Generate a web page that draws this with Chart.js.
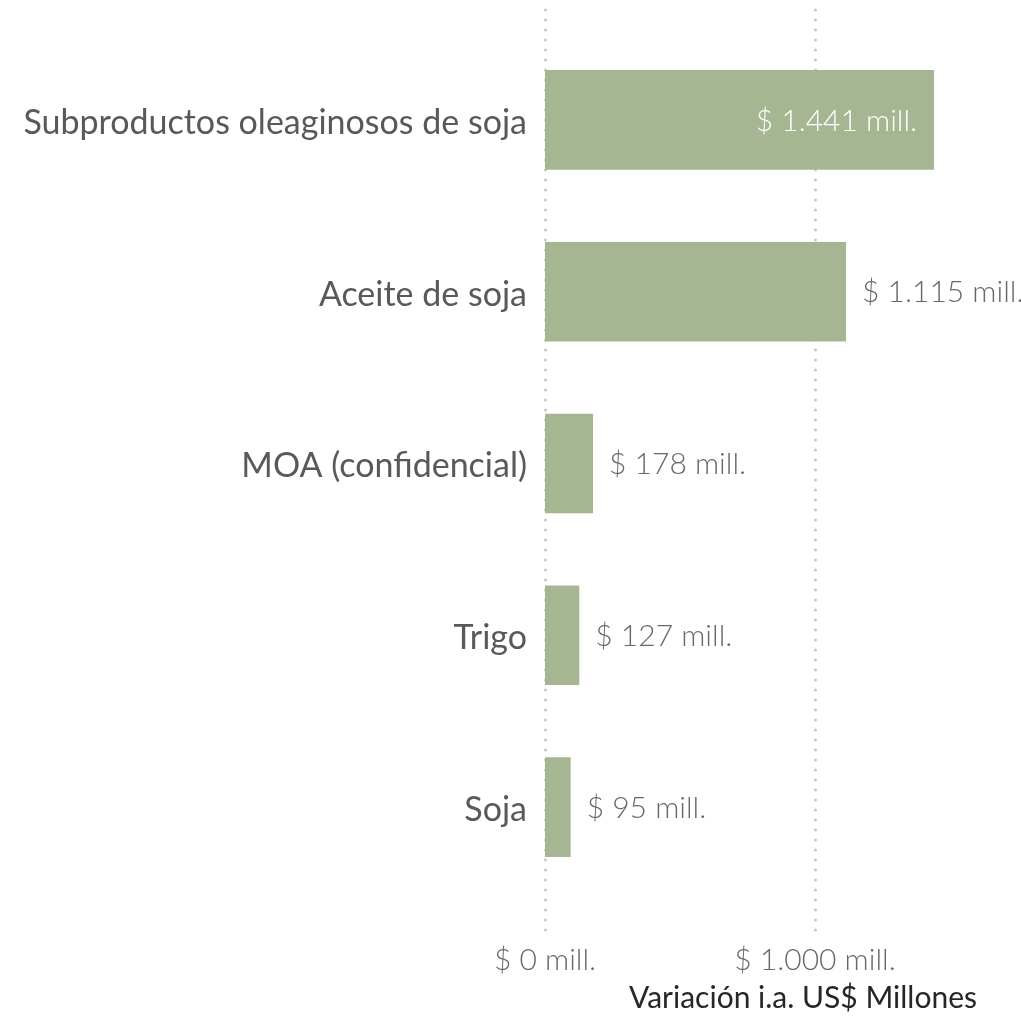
<!DOCTYPE html>
<html>
<head>
<meta charset="utf-8">
<script src="https://cdn.jsdelivr.net/npm/chart.js@4.4.1/dist/chart.umd.min.js"></script>
<style>
  html, body { margin: 0; padding: 0; background: #fff; }
  #wrap { width: 1021px; height: 1016px; }
</style>
</head>
<body>
<div id="wrap"><canvas id="bars-chart"></canvas></div>
<script>
const categories = ['Subproductos oleaginosos de soja', 'Aceite de soja', 'MOA (confidencial)', 'Trigo', 'Soja'];
const variacion = [1441, 1115, 178, 127, 95];
const tickValues = [0, 1000];
const axisTitle = 'Variación i.a. US$ Millones';

const fmt = v => '$ ' + v.toLocaleString('es-AR') + ' mill.';

// dotted vertical grid, a bit taller than the plot area
const dottedGrid = {
  id: 'dottedGrid',
  beforeDatasetsDraw(chart) {
    const { ctx, chartArea, scales } = chart;
    ctx.save();
    ctx.strokeStyle = '#c6c6c6';
    ctx.lineWidth = 3;
    ctx.lineCap = 'round';
    ctx.setLineDash([0, 10]);
    scales.x.ticks.forEach(t => {
      const x = Math.round(scales.x.getPixelForValue(t.value)) + 0.5;
      ctx.beginPath();
      ctx.moveTo(x, chartArea.top - 24);
      ctx.lineTo(x, chartArea.bottom + 39);
      ctx.stroke();
    });
    ctx.restore();
  }
};

// value labels: inside (white) for the largest bar, outside otherwise
const valueLabels = {
  id: 'valueLabels',
  afterDatasetsDraw(chart) {
    const { ctx } = chart;
    const meta = chart.getDatasetMeta(0);
    const max = Math.max(...variacion);
    ctx.save();
    ctx.font = '300 30px Lato';
    ctx.textBaseline = 'middle';
    meta.data.forEach((bar, i) => {
      const v = variacion[i];
      const txt = fmt(v);
      if (v === max) {
        ctx.fillStyle = '#ffffff';
        ctx.textAlign = 'right';
        ctx.fillText(txt, bar.x - 17, bar.y + 1);
      } else {
        ctx.fillStyle = '#686868';
        ctx.textAlign = 'left';
        ctx.fillText(txt, bar.x + 16, bar.y + 1);
      }
    });
    ctx.restore();
  }
};

document.addEventListener('DOMContentLoaded', () => {
  const ctx = document.getElementById('bars-chart').getContext('2d');
  new Chart(ctx, {
    type: 'bar',
    data: {
      labels: categories,
      datasets: [{
        data: variacion,
        backgroundColor: '#a6b592',
        borderWidth: 0,
        categoryPercentage: 1,
        barPercentage: 0.58
      }]
    },
    options: {
      indexAxis: 'y',
      responsive: true,
      maintainAspectRatio: false,
      animation: false,
      layout: { padding: { top: 34, right: 44, left: 0, bottom: 0 } },
      plugins: {
        legend: { display: false },
        tooltip: { enabled: false }
      },
      scales: {
        x: {
          min: 0,
          max: 1600,
          afterBuildTicks: s => { s.ticks = tickValues.map(v => ({ value: v })); },
          afterFit: s => { s.height = 123; },
          grid: { display: false, drawTicks: false },
          border: { display: false },
          ticks: {
            padding: 49,
            color: '#686868',
            font: { family: 'Lato', size: 30, weight: 300 },
            callback: v => fmt(v)
          },
          title: {
            display: true,
            text: axisTitle,
            align: 'end',
            color: '#262626',
            font: { family: 'Lato', size: 30 },
            padding: { top: 0, bottom: 0 }
          }
        },
        y: {
          afterFit: s => { s.width = 545; s.paddingTop = 0; s.paddingBottom = 0; },
          grid: { display: false, drawTicks: false },
          border: { display: false },
          ticks: {
            padding: 18,
            labelOffset: 3,
            color: '#595959',
            font: { family: 'Lato', size: 34 }
          }
        }
      }
    },
    plugins: [dottedGrid, valueLabels]
  });
});
</script>
</body>
</html>
